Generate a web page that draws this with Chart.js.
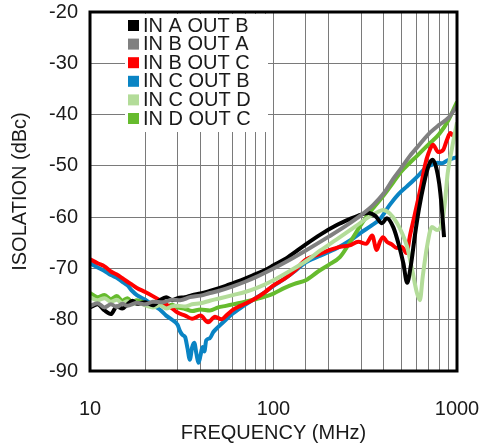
<!DOCTYPE html>
<html>
<head>
<meta charset="utf-8">
<script src="https://cdn.jsdelivr.net/npm/chart.js@4.4.1/dist/chart.umd.min.js"></script>
<style>
  html, body { margin: 0; padding: 0; background: #fff; }
  #chart { display: block; }
</style>
</head>
<body>
<canvas id="chart" width="482" height="448"></canvas>
<script>
// Isolation vs frequency, one freq/value pair of arrays per path
const seriesLabels = ['IN A OUT B', 'IN B OUT A', 'IN B OUT C', 'IN C OUT B', 'IN C OUT D', 'IN D OUT C'];
const seriesColors = ['#000000', '#808080', '#ff0000', '#0a84c4', '#b3dc99', '#66bb2e'];

const freqAB = [10, 11, 12, 13, 14, 15, 16, 17, 18, 20, 22, 24, 26, 28, 30, 33, 36, 40, 45, 50, 55, 60, 70, 80, 90, 100, 120, 150, 180, 220, 260, 300, 330, 360, 390, 415, 450, 480, 510, 535, 560, 590, 620, 660, 700, 735, 770, 800, 825, 850];
const isoAB = [-77.6, -77.0, -78.2, -78.9, -77.4, -77.8, -77.0, -76.3, -76.9, -76.6, -77.2, -76.2, -75.6, -76.2, -75.8, -75.6, -75.2, -74.9, -74.4, -73.9, -73.4, -72.9, -72.0, -71.1, -70.3, -69.4, -67.8, -65.3, -63.4, -61.6, -60.4, -59.5, -59.2, -59.8, -61.2, -60.2, -62.0, -65.2, -69.0, -72.8, -69.5, -63.5, -58.5, -53.5, -50.0, -48.8, -50.3, -53.5, -58.0, -63.9];

const freqBA = [10, 11, 12, 13, 14, 15, 16, 18, 20, 22, 25, 28, 31, 35, 40, 45, 50, 60, 70, 80, 100, 120, 150, 200, 250, 300, 350, 400, 450, 500, 550, 600, 700, 800, 900, 1000];
const isoBA = [-77.3, -76.8, -77.6, -77.0, -77.5, -76.9, -77.3, -76.7, -77.0, -76.5, -76.6, -76.1, -76.2, -75.6, -75.3, -74.8, -74.4, -73.5, -72.6, -71.7, -70.0, -68.5, -66.5, -63.8, -61.6, -59.6, -57.6, -55.3, -52.5, -50.3, -48.2, -46.6, -43.8, -42.0, -40.6, -38.3];

const freqBC = [10, 11, 12, 13, 14, 15, 16, 17, 18, 20, 22, 24, 26, 28, 30, 33, 36, 40, 44, 48, 52, 56, 60, 65, 70, 80, 90, 100, 115, 130, 150, 175, 200, 230, 260, 290, 320, 345, 365, 380, 395, 415, 440, 470, 500, 530, 555, 580, 610, 640, 670, 700, 740, 790, 840, 880, 920, 960, 1000];
const isoBC = [-68.2, -69.0, -69.6, -70.6, -71.2, -71.9, -72.6, -73.2, -73.8, -74.6, -75.4, -76.2, -77.0, -77.8, -78.6, -79.2, -79.8, -79.2, -80.5, -79.4, -79.9, -79.0, -78.1, -77.4, -76.9, -75.8, -74.6, -73.3, -72.0, -70.5, -68.3, -67.3, -66.5, -65.8, -65.5, -64.8, -65.2, -63.6, -66.4, -64.8, -63.9, -64.8, -65.3, -66.0, -65.8, -67.0, -63.5, -60.5, -57.0, -53.5, -49.8, -47.5, -45.9, -47.3, -46.9, -45.0, -43.6, -44.2, -43.0];

const freqCB = [10, 11, 12, 13, 14, 15, 16, 17, 18, 20, 22, 24, 26, 28, 30, 31, 32, 33, 34, 35, 36, 37, 38, 39, 40, 41, 42, 43, 45, 47, 50, 55, 60, 65, 70, 80, 90, 100, 115, 130, 150, 180, 220, 260, 300, 340, 380, 430, 480, 530, 580, 630, 680, 730, 780, 830, 880, 940, 1000];
const isoCB = [-69.0, -69.8, -70.5, -71.3, -71.8, -72.6, -73.3, -74.4, -75.2, -76.1, -77.2, -78.0, -79.2, -80.0, -81.0, -82.3, -83.0, -83.4, -85.6, -87.8, -85.4, -84.5, -86.6, -88.4, -87.0, -85.3, -86.2, -84.0, -83.6, -82.4, -81.4, -80.0, -78.8, -77.9, -77.1, -75.8, -74.6, -73.4, -72.0, -70.6, -68.8, -67.5, -66.1, -64.6, -63.0, -61.7, -60.4, -57.6, -55.5, -54.1, -52.8, -51.5, -50.3, -49.8, -49.4, -49.5, -49.0, -48.6, -48.3];

const freqCD = [10, 11, 12, 13, 14, 15, 16, 17, 18, 20, 22, 24, 26, 28, 30, 33, 36, 40, 45, 50, 60, 70, 80, 100, 120, 150, 180, 220, 260, 300, 340, 370, 395, 430, 470, 500, 535, 570, 605, 628, 650, 686, 730, 778, 828, 860, 890, 940, 1000];
const isoCD = [-75.6, -76.2, -75.8, -76.5, -76.1, -76.8, -76.4, -77.0, -76.7, -77.2, -77.6, -77.2, -77.8, -77.4, -77.3, -77.4, -77.0, -76.8, -76.3, -75.9, -75.2, -74.6, -73.9, -72.3, -70.7, -68.6, -66.5, -64.4, -62.6, -61.0, -59.7, -59.0, -58.6, -59.3, -61.1, -63.0, -65.8, -70.3, -74.8, -76.2, -71.7, -65.8, -61.9, -62.5, -61.1, -57.0, -51.4, -46.5, -41.5];

const freqDC = [10, 11, 12, 13, 14, 15, 16, 17, 18, 20, 22, 24, 26, 28, 30, 33, 36, 40, 45, 50, 55, 60, 70, 80, 90, 100, 115, 130, 150, 175, 200, 230, 260, 290, 320, 350, 400, 450, 500, 550, 600, 700, 800, 900, 1000];
const isoDC = [-74.8, -75.6, -75.2, -76.0, -75.4, -76.3, -75.8, -76.6, -76.2, -76.8, -77.3, -76.9, -77.5, -77.1, -77.6, -77.9, -78.3, -78.0, -78.2, -77.6, -77.3, -77.0, -76.5, -76.0, -75.5, -74.9, -73.8, -73.0, -72.3, -70.6, -69.3, -67.8, -65.0, -62.3, -60.0, -58.2, -55.7, -53.2, -51.0, -49.5, -48.2, -45.8, -43.8, -41.0, -37.5];

const xTickLabels = [10, 100, 1000];
const drawOrder = [2, 1, 4, 6, 3, 5]; // lower = drawn on top

const seriesFreqs = [freqAB, freqBA, freqBC, freqCB, freqCD, freqDC];
const seriesIsos = [isoAB, isoBA, isoBC, isoCB, isoCD, isoDC];

const FONT = "'Liberation Sans', Arial, sans-serif";

// legend + frame drawn over the plot, like the original figure
const frameLegendPlugin = {
    id: 'frameLegend',
    afterDraw(chart) {
        const { ctx, chartArea } = chart;
        ctx.save();

        // white legend box inside the plot
        const bx = chartArea.left + 35;
        const by = chartArea.top + 2;
        ctx.fillStyle = '#ffffff';
        ctx.fillRect(bx, by, 143, 118);

        ctx.font = '20px ' + FONT;
        ctx.textBaseline = 'middle';
        chart.data.datasets.forEach((ds, i) => {
            const cy = chartArea.top + 13 + i * 18.6;
            ctx.fillStyle = ds.borderColor;
            ctx.fillRect(bx + 3, cy - 5, 11, 11);
            ctx.fillStyle = '#1a1a1a';
            ctx.fillText(ds.label, bx + 18, cy + 1);
        });

        // frame
        ctx.strokeStyle = '#000';
        ctx.lineWidth = 3;
        ctx.strokeRect(chartArea.left, chartArea.top, chartArea.right - chartArea.left, chartArea.bottom - chartArea.top);
        ctx.restore();
    }
};

const datasets = seriesLabels.map((label, i) => ({
    label: label,
    data: seriesFreqs[i].map((f, j) => ({ x: f, y: seriesIsos[i][j] })),
    borderColor: seriesColors[i],
    backgroundColor: seriesColors[i],
    borderWidth: 4,
    pointRadius: 0,
    tension: 0.25,
    cubicInterpolationMode: 'monotone',
    order: drawOrder[i]
}));

new Chart(document.getElementById('chart'), {
    type: 'line',
    data: { datasets },
    options: {
        responsive: false,
        animation: false,
        devicePixelRatio: 1,
        layout: { padding: 0 },
        plugins: {
            legend: { display: false },
            tooltip: { enabled: false }
        },
        scales: {
            x: {
                type: 'logarithmic',
                min: 10,
                max: 1000,
                border: { display: false },
                grid: { color: '#7a7a7a', lineWidth: 1, drawTicks: false },
                ticks: {
                    autoSkip: false,
                    maxRotation: 0,
                    padding: 26,
                    color: '#1a1a1a',
                    font: { family: FONT, size: 20 },
                    callback: (v) => xTickLabels.includes(v) ? String(v) : ''
                },
                title: {
                    display: true,
                    text: 'FREQUENCY (MHz)',
                    color: '#1a1a1a',
                    font: { family: FONT, size: 20 },
                    padding: { top: 0, bottom: 3 }
                },
                afterFit: (scale) => {
                    scale.height = 77;
                    scale.paddingLeft = 0;
                    scale.paddingRight = 25;
                }
            },
            y: {
                min: -90,
                max: -20,
                border: { display: false },
                grid: { color: '#7a7a7a', lineWidth: 1, drawTicks: false },
                ticks: {
                    stepSize: 10,
                    padding: 12,
                    color: '#1a1a1a',
                    font: { family: FONT, size: 20 }
                },
                title: {
                    display: true,
                    text: 'ISOLATION (dBc)',
                    color: '#1a1a1a',
                    font: { family: FONT, size: 20 },
                    padding: { top: 8, bottom: 0 }
                },
                afterFit: (scale) => {
                    scale.width = 90;
                    scale.paddingTop = 12;
                    scale.paddingBottom = 0;
                }
            }
        }
    },
    plugins: [frameLegendPlugin]
});
</script>
</body>
</html>
